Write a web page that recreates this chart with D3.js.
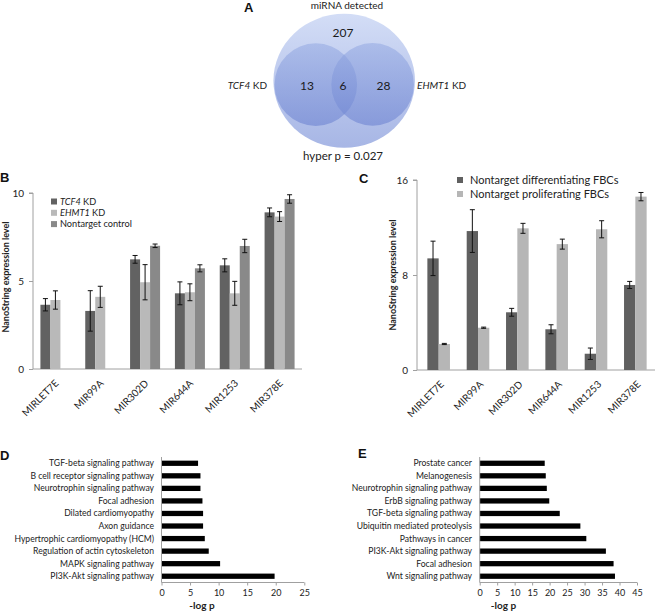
<!DOCTYPE html>
<html><head><meta charset="utf-8">
<script src="https://cdn.jsdelivr.net/npm/d3@7"></script>
<style>
html,body{margin:0;padding:0;background:#fff;}
svg{display:block;font-family:Lato,"Open Sans",sans-serif;}
</style></head>
<body>
<script>
// ---------- DATA ----------
// Panel A (Venn)
const vennCounts = {onlyDetected: 207, onlyTCF4: 13, both: 6, onlyEHMT1: 28};
const vennP = "hyper p = 0.027";

// Panel B
const miRNAs = ["MIRLET7E","MIR99A","MIR302D","MIR644A","MIR1253","MIR378E"];
const seriesB = ["TCF4 KD","EHMT1 KD","Nontarget control"];
const tcf4KD      = [3.65, 3.3, 6.23, 4.3, 5.89, 8.9];
const tcf4KDErr   = [0.35, 1.15, 0.22, 0.65, 0.37, 0.25];
const ehmt1KD     = [3.92, 4.1, 4.93, 4.36, 4.3, 8.66];
const ehmt1KDErr  = [0.52, 0.6, 1.0, 0.48, 0.68, 0.28];
const nontarget   = [0, 0, 7.0, 5.72, 6.99, 9.66];
const nontargetErr= [0, 0, 0.1, 0.2, 0.38, 0.24];
const ticksB = [0, 5, 10];

// Panel C
const seriesC = ["Nontarget differentiating FBCs","Nontarget proliferating FBCs"];
const diffFBC     = [9.4, 11.7, 4.86, 3.43, 1.37, 7.16];
const diffFBCErr  = [1.45, 1.8, 0.33, 0.38, 0.48, 0.3];
const prolFBC     = [2.19, 3.56, 11.93, 10.6, 11.85, 14.6];
const prolFBCErr  = [0.05, 0.05, 0.42, 0.42, 0.72, 0.35];
const ticksC = [0, 8, 16];

// Panel D
const pathwaysD = ["TGF-beta signaling pathway","B cell receptor signaling pathway","Neurotrophin signaling pathway","Focal adhesion","Dilated cardiomyopathy","Axon guidance","Hypertrophic cardiomyopathy (HCM)","Regulation of actin cytoskeleton","MAPK signaling pathway","PI3K-Akt signaling pathway"];
const logpD = [6.4, 6.82, 6.82, 7.17, 7.28, 7.28, 7.58, 8.27, 10.26, 19.8];
const ticksD = [0,5,10,15,20,25];

// Panel E
const pathwaysE = ["Prostate cancer","Melanogenesis","Neurotrophin signaling pathway","ErbB signaling pathway","TGF-beta signaling pathway","Ubiquitin mediated proteolysis","Pathways in cancer","PI3K-Akt signaling pathway","Focal adhesion","Wnt signaling pathway"];
const logpE = [18.6, 18.9, 19.2, 19.9, 22.9, 28.8, 30.5, 36.1, 38.3, 38.7];
const ticksE = [0,5,10,15,20,25,30,35,40,45];

// ---------- DRAW ----------
const W = 656, H = 612;
const svg = d3.select("body").append("svg").attr("width", W).attr("height", H);
const defs = svg.append("defs");
const txtCol = "#222";
const axisCol = "#a0a0a0";

function letter(x, y, t){
  svg.append("text").attr("x", x).attr("y", y).text(t)
    .attr("font-family","Liberation Sans, Arial, sans-serif").attr("font-weight","bold")
    .attr("font-size", 13).attr("fill","#111");
}

// ===== Panel A =====
letter(244, 12, "A");
const gBig = defs.append("linearGradient").attr("id","gBig").attr("x1",0).attr("y1",0).attr("x2",0).attr("y2",1);
gBig.append("stop").attr("offset","0%").attr("stop-color","#d3ddf6");
gBig.append("stop").attr("offset","100%").attr("stop-color","#a7b6e5");
const gSm = defs.append("linearGradient").attr("id","gSm").attr("x1",0).attr("y1",0).attr("x2",0).attr("y2",1);
gSm.append("stop").attr("offset","0%").attr("stop-color","#8ea4e0").attr("stop-opacity",0.5);
gSm.append("stop").attr("offset","100%").attr("stop-color","#6f85d2").attr("stop-opacity",0.62);

const gA = svg.append("g");
gA.append("ellipse").attr("cx",344.2).attr("cy",80.8).attr("rx",70.8).attr("ry",67).attr("fill","url(#gBig)");
const smalls = [{cx:315.8, cy:84.6}, {cx:372.6, cy:84.4}];
gA.selectAll("circle.sm").data(smalls).join("circle").attr("class","sm")
  .attr("cx",d=>d.cx).attr("cy",d=>d.cy).attr("r",41.3).attr("fill","url(#gSm)");
const vennLabels = [
  {x:343, y:37, t:vennCounts.onlyDetected},
  {x:307, y:90, t:vennCounts.onlyTCF4},
  {x:343, y:90, t:vennCounts.both},
  {x:383.5, y:90, t:vennCounts.onlyEHMT1}
];
gA.selectAll("text.vc").data(vennLabels).join("text").attr("class","vc")
  .attr("x",d=>d.x).attr("y",d=>d.y).attr("text-anchor","middle")
  .attr("font-size",12).attr("fill","#1a1a1a").text(d=>d.t);
gA.append("text").attr("x",347).attr("y",9).attr("text-anchor","middle").attr("font-size",10).attr("fill",txtCol).text("miRNA detected");
gA.append("text").attr("x",343).attr("y",160).attr("text-anchor","middle").attr("font-size",11.5).attr("fill",txtCol).text(vennP);
const tA = gA.append("text").attr("x",267).attr("y",89).attr("text-anchor","end").attr("font-size",10).attr("fill",txtCol);
tA.append("tspan").attr("font-style","italic").text("TCF4");
tA.append("tspan").text(" KD");
const tB = gA.append("text").attr("x",417).attr("y",89).attr("text-anchor","start").attr("font-size",10).attr("fill",txtCol);
tB.append("tspan").attr("font-style","italic").text("EHMT1");
tB.append("tspan").text(" KD");

// ===== grouped bar helper =====
function groupedBars(cfg){
  const g = svg.append("g");
  const y = d3.scaleLinear().domain(cfg.yDomain).range([cfg.y0, cfg.y1]);
  const x0 = d3.scaleBand().domain(miRNAs).range([cfg.xL, cfg.xR]).padding(0);
  const groupW = cfg.barW * cfg.series.length;
  const x1 = d3.scaleBand().domain(cfg.series.map((s,i)=>i)).range([0, groupW]).padding(0);
  const off = (x0.bandwidth() - groupW)/2;

  // y axis
  const ya = g.append("g").attr("transform",`translate(${cfg.axisX},0)`)
    .call(d3.axisLeft(y).tickValues(cfg.ticks).tickSize(4).tickPadding(5).tickFormat(d3.format("d")));
  ya.select(".domain").attr("stroke",axisCol).attr("d",`M-4,${cfg.y1}H0V${cfg.y0}`);
  ya.selectAll(".tick line").attr("stroke",axisCol);
  ya.selectAll(".tick text").attr("font-size",10).attr("fill",txtCol).attr("font-family","Lato, sans-serif");
  // x axis line
  g.append("line").attr("x1",cfg.axisX).attr("x2",cfg.xR).attr("y1",y(0)).attr("y2",y(0)).attr("stroke",axisCol);

  cfg.series.forEach((s,si)=>{
    const vals = cfg.values[si], errs = cfg.errors[si];
    const bg = g.append("g");
    bg.selectAll("rect").data(miRNAs).join("rect")
      .attr("x",(d)=>x0(d)+off+x1(si)).attr("width",x1.bandwidth())
      .attr("y",(d,i)=>y(vals[i])).attr("height",(d,i)=>Math.max(0,y(0)-y(vals[i])))
      .attr("fill",cfg.colors[si]);
    const eg = g.append("g").attr("stroke","#111").attr("stroke-width",1);
    miRNAs.forEach((d,i)=>{
      if(!errs[i]) return;
      const cx = x0(d)+off+x1(si)+x1.bandwidth()/2;
      const t = y(vals[i]+errs[i]), b = y(vals[i]-errs[i]);
      eg.append("line").attr("x1",cx).attr("x2",cx).attr("y1",t).attr("y2",b);
      eg.append("line").attr("x1",cx-2.5).attr("x2",cx+2.5).attr("y1",t).attr("y2",t);
      eg.append("line").attr("x1",cx-2.5).attr("x2",cx+2.5).attr("y1",b).attr("y2",b);
    });
  });
  // category labels
  g.selectAll("text.cat").data(miRNAs).join("text").attr("class","cat")
    .attr("transform",d=>`translate(${x0(d)+x0.bandwidth()/2+cfg.labDx},${y(0)+cfg.labDy}) rotate(-45)`)
    .attr("text-anchor","end").attr("font-size",10).attr("fill",txtCol).text(d=>d);
  // y title
  g.append("text").attr("transform",`translate(${cfg.titleX},${cfg.titleY}) rotate(-90)`)
    .attr("text-anchor","middle").attr("font-size",9).attr("font-weight","bold").attr("fill",txtCol)
    .text("NanoString expression level");
  return g;
}

// ===== Panel B =====
letter(0, 182, "B");
groupedBars({
  yDomain:[0,10], y0:369, y1:193, xL:33, xR:302, axisX:33, barW:10,
  series:seriesB, values:[tcf4KD, ehmt1KD, nontarget], errors:[tcf4KDErr, ehmt1KDErr, nontargetErr],
  colors:["#626262","#b9b9b9","#898989"], ticks:ticksB, labDx:4, labDy:15, titleX:9, titleY:277
});
const legB = svg.append("g");
seriesB.forEach((s,i)=>{
  const yy = 201.5 + i*11.3;
  legB.append("rect").attr("x",51).attr("y",yy-3).attr("width",6).attr("height",6).attr("fill",["#626262","#b9b9b9","#898989"][i]);
  const t = legB.append("text").attr("x",60).attr("y",yy+3.3).attr("font-size",9.2).attr("fill",txtCol);
  if(i<2){ const parts = s.split(" "); t.append("tspan").attr("font-style","italic").text(parts[0]); t.append("tspan").text(" "+parts[1]); }
  else t.text(s);
});

// ===== Panel C =====
letter(359, 183, "C");
groupedBars({
  yDomain:[0,16], y0:370, y1:180, xL:419, xR:655, axisX:417, barW:11.3,
  series:seriesC, values:[diffFBC, prolFBC], errors:[diffFBCErr, prolFBCErr],
  colors:["#606060","#b6b6b6"], ticks:ticksC, labDx:6, labDy:15, titleX:396, titleY:275
});
const legC = svg.append("g");
seriesC.forEach((s,i)=>{
  const yy = 180 + i*14;
  legC.append("rect").attr("x",457).attr("y",yy-3).attr("width",6).attr("height",6).attr("fill",["#606060","#b6b6b6"][i]);
  legC.append("text").attr("x",470).attr("y",yy+3.8).attr("font-size",11).attr("fill",txtCol).text(s);
});

// ===== horizontal bar helper =====
function hBars(cfg){
  const g = svg.append("g");
  const x = d3.scaleLinear().domain([0, cfg.ticks[cfg.ticks.length-1]]).range([cfg.xL, cfg.xR]);
  const y = d3.scaleBand().domain(cfg.cats).range([457, 582.5]).paddingInner(0.58).paddingOuter(0.29);
  g.selectAll("rect").data(cfg.cats).join("rect")
    .attr("x",x(0)).attr("y",d=>y(d)).attr("height",y.bandwidth())
    .attr("width",(d,i)=>x(cfg.vals[i])-x(0)).attr("fill","#000");
  g.append("line").attr("x1",x(0)).attr("x2",x(0)).attr("y1",457).attr("y2",582.5).attr("stroke",axisCol);
  const xa = g.append("g").attr("transform","translate(0,582.5)")
    .call(d3.axisBottom(x).tickValues(cfg.ticks).tickSize(3).tickPadding(4));
  xa.select(".domain").attr("stroke",axisCol).attr("d",`M${x(0)},0H${cfg.xR}`);
  xa.selectAll(".tick line").attr("stroke",axisCol);
  xa.selectAll(".tick text").attr("font-size",9).attr("fill",txtCol).attr("font-family","Lato, sans-serif");
  g.selectAll("text.cat").data(cfg.cats).join("text").attr("class","cat")
    .attr("x",cfg.labX).attr("y",d=>y(d)+y.bandwidth()/2+3).attr("text-anchor","end")
    .attr("font-size",8.6).attr("fill",txtCol).text(d=>d);
  g.append("text").attr("x",cfg.titleX).attr("y",609).attr("text-anchor","middle")
    .attr("font-size",10).attr("font-weight","bold").attr("fill",txtCol).text("-log p");
}
letter(0, 460, "D");
hBars({cats:pathwaysD, vals:logpD, ticks:ticksD, xL:161.5, xR:304.3, labX:154, titleX:202});
letter(358, 458, "E");
hBars({cats:pathwaysE, vals:logpE, ticks:ticksE, xL:479.7, xR:637, labX:472, titleX:503.5});
</script>
</body></html>
